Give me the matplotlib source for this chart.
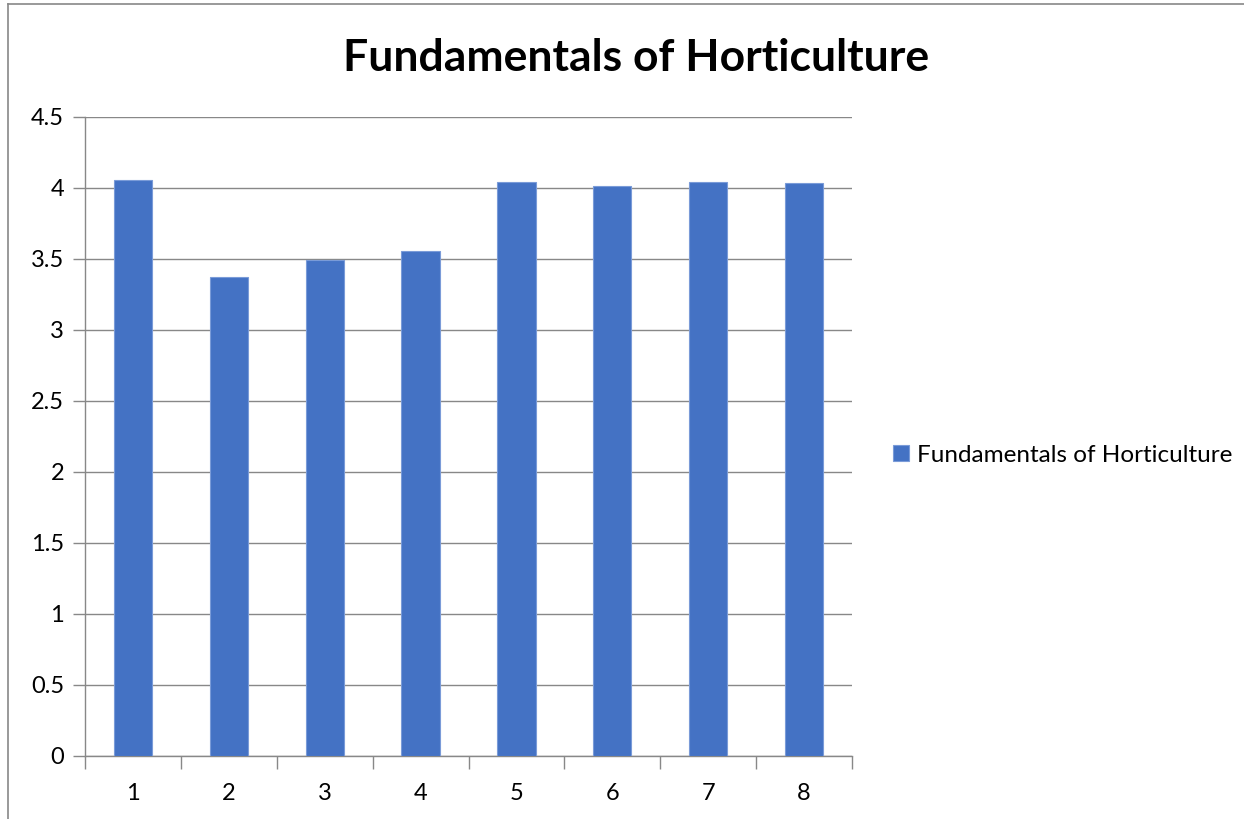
import matplotlib
matplotlib.use("Agg")
import matplotlib.pyplot as plt
from matplotlib.lines import Line2D

# data
categories = ["1", "2", "3", "4", "5", "6", "7", "8"]
values = [4.05, 3.37, 3.49, 3.55, 4.04, 4.01, 4.04, 4.03]
series_name = "Fundamentals of Horticulture"
yticks = [0, 0.5, 1, 1.5, 2, 2.5, 3, 3.5, 4, 4.5]
ytick_labels = ["0", "0.5", "1", "1.5", "2", "2.5", "3", "3.5", "4", "4.5"]

plt.rcParams['font.family'] = ['Lato', 'DejaVu Sans']

W, H = 1244, 819
fig = plt.figure(figsize=(W / 100, H / 100), dpi=100)
ax = fig.add_axes([85 / W, 1 - 755.5 / H, (852 - 85) / W, (755.5 - 116.5) / H])

x = list(range(len(categories)))
ax.bar(x, values, width=0.4, color="#4472C4", edgecolor="#7A9BD8",
       linewidth=0.8, label=series_name, zorder=3)

ax.set_xlim(-0.5, len(categories) - 0.5)
ax.set_ylim(0, 4.5)
ax.set_yticks(yticks)
ax.set_yticklabels(ytick_labels, fontsize=17)
ax.set_xticks(x)
ax.set_xticklabels(categories, fontsize=17)
# boundary ticks between categories
ax.set_xticks([i - 0.5 for i in range(len(categories) + 1)], minor=True)
ax.tick_params(axis="x", which="major", length=0, pad=20)
ax.tick_params(axis="x", which="minor", length=9, color="#888888", width=1)
ax.tick_params(axis="y", length=9, color="#888888", width=1, pad=6)

ax.grid(axis="y", color="#888888", linewidth=1, zorder=0)
for s in ["top", "right"]:
    ax.spines[s].set_visible(False)
for s in ["left", "bottom"]:
    ax.spines[s].set_color("#888888")
    ax.spines[s].set_linewidth(1)

fig.text(636 / W, 1 - 58 / H, series_name, ha="center", va="center",
         fontsize=32, fontweight="bold")

leg = fig.legend(loc="center left", bbox_to_anchor=(871 / W, 1 - 455 / H),
                 frameon=False, fontsize=17.5, handlelength=0.65, handleheight=0.65,
                 handletextpad=0.35)

# chart border (top and left visible)
fig.add_artist(Line2D([8 / W, 1], [1 - 4 / H, 1 - 4 / H], color="#888888", lw=1.2))
fig.add_artist(Line2D([8 / W, 8 / W], [0, 1 - 4 / H], color="#888888", lw=1.2))

fig.savefig("out.png", dpi=100)
